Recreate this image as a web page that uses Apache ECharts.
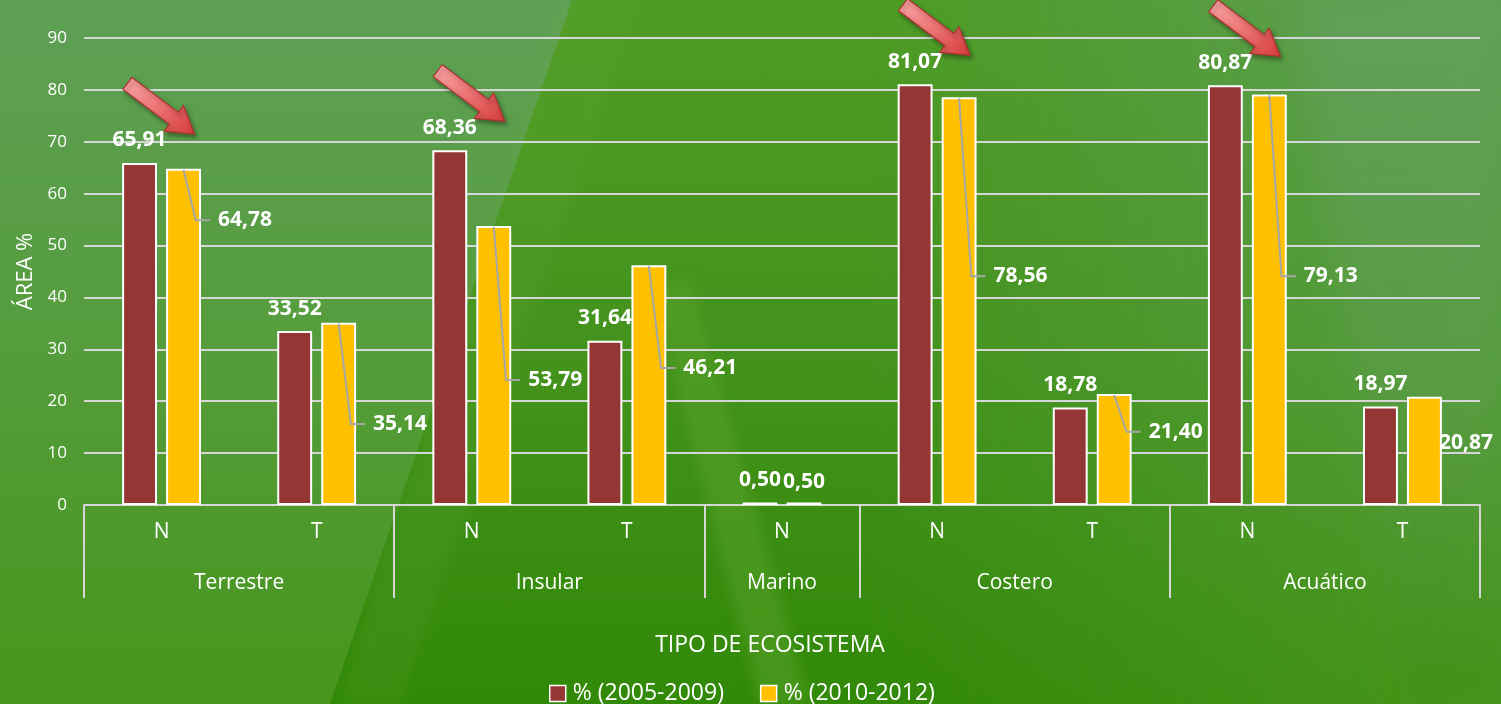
<!DOCTYPE html>
<html>
<head>
<meta charset="utf-8">
<script src="https://cdn.jsdelivr.net/npm/echarts@6/dist/echarts.min.js"></script>
<style>
  html, body { margin:0; padding:0; width:1501px; height:704px; overflow:hidden; background:#4a9420; }
  #bg { position:absolute; left:0; top:0; width:1501px; height:704px; }
  #chart { position:absolute; left:0; top:0; width:1501px; height:704px; }
</style>
</head>
<body>
<svg id="bg" width="1501" height="704" xmlns="http://www.w3.org/2000/svg">
  <defs>
    <linearGradient id="base" x1="0" y1="0" x2="0" y2="1">
      <stop offset="0" stop-color="#5e9f55"/>
      <stop offset="0.5" stop-color="#559d3c"/>
      <stop offset="1" stop-color="#47951b"/>
    </linearGradient>
    <linearGradient id="wedgeC" x1="0" y1="0" x2="0" y2="1">
      <stop offset="0" stop-color="#4c9b1f"/>
      <stop offset="0.5" stop-color="#42921a"/>
      <stop offset="1" stop-color="#2f8806"/>
    </linearGradient>
    <linearGradient id="fadeR" x1="0" y1="0" x2="1" y2="0">
      <stop offset="0" stop-color="#fff" stop-opacity="1"/>
      <stop offset="0.5" stop-color="#fff" stop-opacity="1"/>
      <stop offset="1" stop-color="#fff" stop-opacity="0"/>
    </linearGradient>
    <mask id="wm" maskUnits="userSpaceOnUse" x="0" y="0" width="1501" height="704">
      <rect x="300" y="0" width="1150" height="704" fill="url(#fadeR)"/>
    </mask>
    <linearGradient id="rightC" x1="0" y1="0" x2="0" y2="1">
      <stop offset="0" stop-color="#62a05a" stop-opacity="0.9"/>
      <stop offset="0.6" stop-color="#5a9c48" stop-opacity="0.5"/>
      <stop offset="1" stop-color="#3e8e12" stop-opacity="0.6"/>
    </linearGradient>
    <filter id="soft"><feGaussianBlur stdDeviation="18"/></filter>
    <filter id="soft2"><feGaussianBlur stdDeviation="6"/></filter>
  </defs>
  <rect x="0" y="0" width="1501" height="704" fill="url(#base)"/>
  <g mask="url(#wm)">
    <polygon points="572,0 1501,0 1501,704 330,704" fill="url(#wedgeC)" opacity="0.9"/>
  </g>
  <polygon points="1300,0 1501,0 1501,704 1400,704" fill="url(#rightC)" filter="url(#soft)"/>
  <polygon points="650,280 690,280 810,704 760,704" fill="#58a22a" opacity="0.5" filter="url(#soft2)"/>
  <polygon points="560,0 640,0 400,704 340,704" fill="#74b04a" opacity="0.12" filter="url(#soft2)"/>
</svg>
<div id="chart"></div>
<script>
// ---- data ----
const subCategories = ['N', 'T', 'N', 'T', 'N', 'N', 'T', 'N', 'T'];
const groupNames = ['Terrestre', 'Insular', 'Marino', 'Costero', 'Acuático'];
const groupSizes = [2, 2, 1, 2, 2];
const seriesNames = ['% (2005-2009)', '% (2010-2012)'];
const values2005 = [65.91, 33.52, 68.36, 31.64, 0.50, 81.07, 18.78, 80.87, 18.97];
const values2010 = [64.78, 35.14, 53.79, 46.21, 0.50, 78.56, 21.40, 79.13, 20.87];
const yMin = 0, yMax = 90, yStep = 10;
const arrowCategories = [0, 2, 5, 7];

// ---- callout layout for the second series (axis level of the label, leader line on/off) ----
const calloutLevels = [54.9, 15.6, 24.1, 26.4, null, 44.1, 14.1, 44.1, 11.9];
const calloutLeader = [true, true, true, true, false, true, true, true, false];

const FONT = '"Open Sans", "Noto Sans", sans-serif';
const MAROON = '#943634', GOLD = '#FFC000', GRIDC = '#d6d6d6';
const fmt = v => v.toFixed(2).replace('.', ',');

// group boundaries and centers in category units
const bounds = [0];
groupSizes.forEach(s => bounds.push(bounds[bounds.length - 1] + s));
const centers = groupSizes.map((s, i) => bounds[i] + s / 2);

const BAR_W = 0.225, BAR_GAP = 0.26;
const offsetFrac = BAR_W * (1 + BAR_GAP) / 2; // center offset of each bar in band units

const chart = echarts.init(document.getElementById('chart'), null, { renderer: 'canvas' });

const option = {
  backgroundColor: 'transparent',
  textStyle: { fontFamily: FONT },
  grid: { left: 84, right: 21, top: 38, bottom: 199, containLabel: false },
  legend: {
    data: seriesNames,
    left: 544, top: 677,
    icon: 'rect', itemWidth: 16, itemHeight: 16, itemGap: 36,
    textStyle: { color: '#ffffff', fontSize: 23, fontFamily: FONT, padding: [0, 0, 0, 2] },
    itemStyle: { borderColor: '#ffffff', borderWidth: 1.5 }
  },
  xAxis: [
    {
      type: 'category', data: subCategories, gridIndex: 0,
      axisLine: { lineStyle: { color: GRIDC, width: 2 } },
      axisTick: { show: false },
      axisLabel: { color: '#ffffff', fontSize: 21, margin: 17, fontFamily: FONT },
      name: 'TIPO DE ECOSISTEMA', nameLocation: 'middle', nameGap: 129,
      nameTextStyle: { color: '#ffffff', fontSize: 23, fontFamily: FONT, padding: [0, 24, 0, 0] }
    },
    {
      type: 'value', gridIndex: 0, min: 0, max: subCategories.length,
      position: 'bottom', offset: 93,
      axisLine: { show: false },
      splitLine: { show: false },
      axisTick: { show: true, inside: true, length: 93, customValues: bounds,
        lineStyle: { color: GRIDC, width: 2 } },
      axisLabel: { show: true, inside: true, margin: 4, customValues: centers,
        color: '#ffffff', fontSize: 21, fontFamily: FONT,
        formatter: v => { const i = centers.indexOf(v); return i >= 0 ? groupNames[i] : ''; } }
    }
  ],
  yAxis: {
    type: 'value', min: yMin, max: yMax, interval: yStep,
    axisLine: { show: false }, axisTick: { show: false },
    axisLabel: { color: '#ffffff', fontSize: 17, margin: 17, fontFamily: FONT },
    splitLine: { lineStyle: { color: GRIDC, width: 2 } },
    name: 'ÁREA %', nameLocation: 'middle', nameGap: 42,
    nameTextStyle: { color: '#ffffff', fontSize: 22, fontFamily: FONT }
  },
  series: [
    {
      name: seriesNames[0], type: 'bar', data: values2005,
      barWidth: (BAR_W * 100) + '%', barGap: (BAR_GAP * 100) + '%',
      itemStyle: { color: MAROON, borderColor: '#ffffff', borderWidth: 2 },
      label: { show: true, position: 'top', distance: 12, color: '#ffffff',
        fontSize: 21, fontWeight: 'bold', fontFamily: FONT, formatter: p => fmt(p.value) }
    },
    {
      name: seriesNames[1], type: 'bar', data: values2010,
      barWidth: (BAR_W * 100) + '%', barGap: (BAR_GAP * 100) + '%',
      itemStyle: { color: GOLD, borderColor: '#ffffff', borderWidth: 2 },
      label: { show: false }
    },
    {
      name: 'callouts', type: 'custom', xAxisIndex: 0, yAxisIndex: 0, silent: true, z: 10,
      data: values2010.map((v, i) => [i, v, calloutLevels[i] === null ? -1 : calloutLevels[i], calloutLeader[i] ? 1 : 0]),
      renderItem: (params, api) => {
        const idx = api.value(0), val = api.value(1), lvl = api.value(2), lead = api.value(3);
        const band = api.size([1, 0])[0];
        const bw = band * BAR_W;
        const c = api.coord([idx, val]);
        const cx = c[0] + band * offsetFrac;
        const topY = c[1];
        const txt = fmt(val);
        const textStyle = { fill: '#ffffff', fontSize: 21, fontWeight: 'bold', fontFamily: FONT, text: txt };
        if (lvl < 0) {
          return { type: 'text', style: Object.assign({ x: cx, y: topY - 10, align: 'center', verticalAlign: 'bottom' }, textStyle) };
        }
        const ly = api.coord([idx, lvl])[1];
        const children = [];
        if (lead) {
          children.push({ type: 'polyline', shape: { points: [[cx, topY + 1], [cx + bw * 0.35, ly], [cx + bw / 2 + 9, ly]] },
            style: { stroke: '#a6a6a6', lineWidth: 2, fill: null } });
          children.push({ type: 'text', style: Object.assign({ x: cx + bw / 2 + 17, y: ly, align: 'left', verticalAlign: 'middle' }, textStyle) });
        } else {
          children.push({ type: 'text', style: Object.assign({ x: cx + bw / 2 - 3, y: ly, align: 'left', verticalAlign: 'middle' }, textStyle) });
        }
        return { type: 'group', children };
      }
    }
  ]
};
chart.setOption(option);

// decorative red arrows pointing at the highlighted first-series bars
function arrowPolygon(tip, angleDeg, L) {
  const a = angleDeg * Math.PI / 180;
  const d = [Math.cos(a), Math.sin(a)], n = [-Math.sin(a), Math.cos(a)];
  const local = [[0, -7.5], [L - 26, -7.5], [L - 26, -16], [L, 0], [L - 26, 16], [L - 26, 7.5], [0, 7.5]];
  return local.map(([x, y]) => [tip[0] + d[0] * (x - L) + n[0] * y, tip[1] + d[1] * (x - L) + n[1] * y]);
}
const graphics = [];
const band = chart.convertToPixel({ xAxisIndex: 0 }, 1) - chart.convertToPixel({ xAxisIndex: 0 }, 0);
arrowCategories.forEach(i => {
  const p = chart.convertToPixel({ xAxisIndex: 0, yAxisIndex: 0 }, [i, values2005[i]]);
  const bx = p[0] - band * offsetFrac;
  const tip = [bx + 55, p[1] - 29];
  graphics.push({
    type: 'polygon', z: 20, silent: true,
    shape: { points: arrowPolygon(tip, 37, 84) },
    style: {
      fill: new echarts.graphic.LinearGradient(0, 0, 1, 1, [
        { offset: 0, color: '#f9a8a8' }, { offset: 0.5, color: '#ee7474' }, { offset: 1, color: '#d33b3b' }]),
      stroke: '#b3312f', lineWidth: 1.2,
      shadowBlur: 4, shadowColor: 'rgba(0,0,0,0.35)', shadowOffsetX: 2, shadowOffsetY: 3
    }
  });
});
chart.setOption({ graphic: graphics });
</script>
</body>
</html>
